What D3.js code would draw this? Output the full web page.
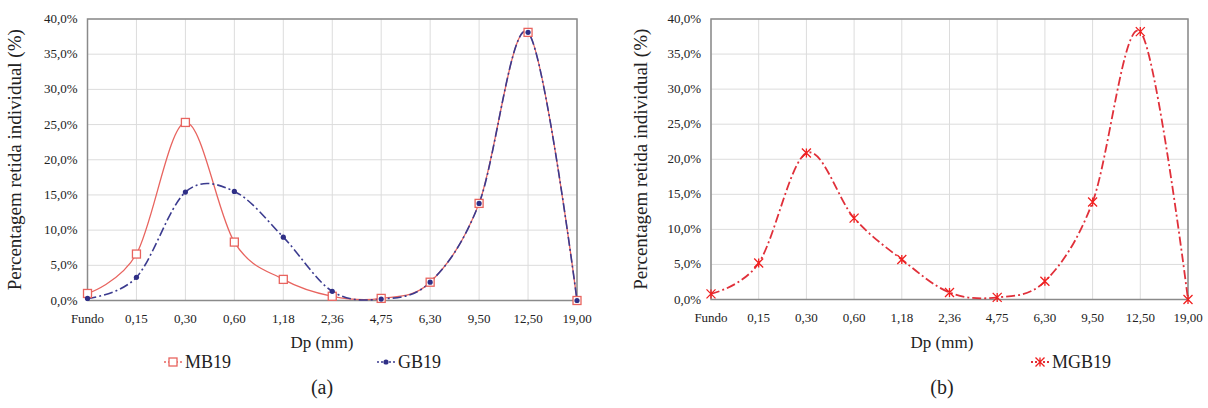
<!DOCTYPE html>
<html>
<head>
<meta charset="utf-8">
<script src="https://cdn.jsdelivr.net/npm/d3@7"></script>
<style>
  body { margin: 0; background: #fff; }
  svg text { fill: #222; }
</style>
</head>
<body>
<div id="svg-div"></div>
<script>
var width = 1208;
var height = 408;

// sieve sizes (mm)
var categories = ["Fundo", "0,15", "0,30", "0,60", "1,18", "2,36", "4,75", "6,30", "9,50", "12,50", "19,00"];
var yTicks = [0, 5, 10, 15, 20, 25, 30, 35, 40];

// percent retained
var mb19 = [1.0, 6.6, 25.3, 8.3, 3.0, 0.6, 0.3, 2.6, 13.8, 38.1, 0.0];
var gb19 = [0.3, 3.3, 15.4, 15.5, 9.0, 1.3, 0.2, 2.6, 13.8, 38.1, 0.0];
var mgb19 = [0.8, 5.2, 20.9, 11.6, 5.7, 1.0, 0.3, 2.6, 13.9, 38.2, 0.0];

var svg = d3.select("#svg-div").append("svg")
    .attr("width", width).attr("height", height)
    .attr("font-family", "'Liberation Serif', 'Times New Roman', 'DejaVu Serif', serif");

var fmt = function(d) { return d.toFixed(1).replace(".", ",") + "%"; };

function drawPanel(p) {
  var x = d3.scalePoint().domain(categories).range([p.left, p.right]);
  var y = d3.scaleLinear().domain([0, 40]).range([p.bottom, p.top]);
  var g = svg.append("g");

  // grid
  g.selectAll(".hgrid").data(yTicks).enter().append("line")
    .attr("x1", p.left).attr("x2", p.right)
    .attr("y1", function(d) { return y(d); }).attr("y2", function(d) { return y(d); })
    .style("stroke", "#dcdcdc").style("stroke-width", 1);
  g.selectAll(".vgrid").data(categories).enter().append("line")
    .attr("x1", function(d) { return x(d); }).attr("x2", function(d) { return x(d); })
    .attr("y1", p.top).attr("y2", p.bottom)
    .style("stroke", "#dcdcdc").style("stroke-width", 1);

  // frame
  g.append("rect")
    .attr("x", p.left).attr("y", p.top)
    .attr("width", p.right - p.left).attr("height", p.bottom - p.top)
    .style("fill", "none").style("stroke", "#8a8a8a").style("stroke-width", 1.5);

  // axes labels
  g.selectAll(".ylab").data(yTicks).enter().append("text")
    .attr("x", p.left - 10).attr("y", function(d) { return y(d) + 4; })
    .attr("text-anchor", "end").style("font-size", "13px")
    .text(fmt);
  g.selectAll(".xlab").data(categories).enter().append("text")
    .attr("x", function(d) { return x(d); }).attr("y", p.bottom + 22)
    .attr("text-anchor", "middle").style("font-size", "13px")
    .text(function(d) { return d; });

  g.append("text")
    .attr("transform", "translate(" + p.titleX + "," + ((p.top + p.bottom) / 2) + ") rotate(-90)")
    .attr("text-anchor", "middle").style("font-size", "19px")
    .text("Percentagem retida individual (%)");
  g.append("text")
    .attr("x", p.dpX).attr("y", 348)
    .attr("text-anchor", "middle").style("font-size", "17px")
    .text("Dp (mm)");
  g.append("text")
    .attr("x", p.dpX).attr("y", 394)
    .attr("text-anchor", "middle").style("font-size", "20px")
    .text(p.tag);

  var line = d3.line()
    .x(function(d, i) { return x(categories[i]); })
    .y(function(d) { return y(d); })
    .curve(d3.curveCatmullRom.alpha(0));

  p.series.forEach(function(s) {
    g.append("path").datum(s.values)
      .attr("d", line)
      .style("fill", "none").style("stroke", s.color)
      .style("stroke-width", s.width)
      .style("stroke-dasharray", s.dash);
  });
  p.series.forEach(function(s) {
    s.values.forEach(function(v, i) {
      marker(g, s.marker, x(categories[i]), y(v), s.markColor);
    });
    // legend
    var lg = svg.append("g");
    lg.append("line")
      .attr("x1", s.legX - 9).attr("x2", s.legX + 9)
      .attr("y1", 362).attr("y2", 362)
      .style("stroke", s.color).style("stroke-width", s.width)
      .style("stroke-dasharray", "2,2");
    marker(lg, s.marker, s.legX, 362, s.markColor);
    lg.append("text")
      .attr("x", s.legX + 12).attr("y", 368)
      .style("font-size", "18px")
      .text(s.name);
  });
}

function marker(g, type, cx, cy, color) {
  if (type === "square") {
    g.append("rect")
      .attr("x", cx - 4).attr("y", cy - 4).attr("width", 8).attr("height", 8)
      .style("fill", "#fff").style("stroke", color).style("stroke-width", 1.3);
  } else if (type === "dot") {
    g.append("circle")
      .attr("cx", cx).attr("cy", cy).attr("r", 2.6)
      .style("fill", color);
  } else {
    var s = 4.5;
    g.append("path")
      .attr("d", "M" + (cx - s) + "," + (cy - s) + "L" + (cx + s) + "," + (cy + s) +
        "M" + (cx - s) + "," + (cy + s) + "L" + (cx + s) + "," + (cy - s) +
        "M" + cx + "," + (cy - s) + "L" + cx + "," + (cy + s))
      .style("stroke", color).style("stroke-width", 1.3).style("fill", "none");
  }
}

drawPanel({
  left: 87.5, right: 577, top: 19, bottom: 300.5,
  titleX: 21, dpX: 322, tag: "(a)",
  series: [
    { name: "MB19", values: mb19, color: "#e8645f", markColor: "#e8645f", width: 1.3, dash: "none", marker: "square", legX: 173 },
    { name: "GB19", values: gb19, color: "#3b3b8f", markColor: "#2f2f86", width: 1.6, dash: "9,3,2,3", marker: "dot", legX: 386 }
  ]
});

drawPanel({
  left: 711, right: 1188, top: 19, bottom: 299.5,
  titleX: 647, dpX: 942, tag: "(b)",
  series: [
    { name: "MGB19", values: mgb19, color: "#e0303a", markColor: "#f02020", width: 1.8, dash: "9,3,2,3", marker: "star", legX: 1040 }
  ]
});
</script>
</body>
</html>
